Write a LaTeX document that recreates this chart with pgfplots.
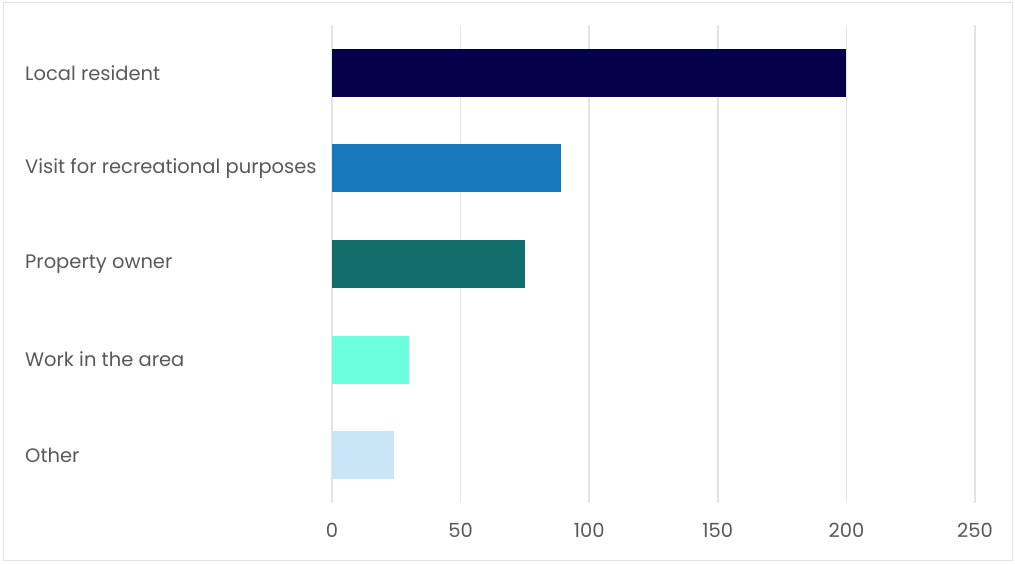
\documentclass[border=0pt]{standalone}
\usepackage{fontspec}
\setmainfont{Poppins}
\usepackage{pgfplots}
\pgfplotsset{compat=1.18}
\definecolor{cA}{HTML}{05004A}
\definecolor{cB}{HTML}{1878BE}
\definecolor{cC}{HTML}{116E6B}
\definecolor{cD}{HTML}{6CFFDD}
\definecolor{cE}{HTML}{C9E6F7}
\definecolor{txt}{HTML}{595959}
\definecolor{grd}{HTML}{E3E3E3}
\begin{document}
\begin{tikzpicture}[x=1pt,y=1pt]
\useasboundingbox (0,0) rectangle (1015,563);
\draw[color=grd, line width=1pt] (3,3) rectangle (1012,560);
\begin{axis}[
  at={(332pt,60pt)}, anchor=south west,
  scale only axis, width=643pt, height=478pt,
  xmin=0, xmax=250, ymin=-0.5, ymax=4.5,
  y dir=reverse,
  axis line style={draw=none},
  major tick length=0pt,
  xmajorgrids, grid style={color=grd, line width=1.5pt},
  xtick={0,50,100,150,200,250},
  ytick={0,1,2,3,4},
  yticklabels={Local resident, Visit for recreational purposes, Property owner, Work in the area, Other},
  ticklabel style={font=\fontsize{19.5}{23}\selectfont, text=txt},
  yticklabel style={anchor=west, inner sep=0pt, xshift=-307pt},
  xticklabel style={anchor=center, inner sep=0pt, yshift=-27pt},
  /pgf/number format/assume math mode=true,
  clip=false,
]
\addplot[xbar, bar shift=0pt, bar width=48pt, fill=cA, draw=none] coordinates {(200,0)};
\addplot[xbar, bar shift=0pt, bar width=48pt, fill=cB, draw=none] coordinates {(89,1)};
\addplot[xbar, bar shift=0pt, bar width=48pt, fill=cC, draw=none] coordinates {(75,2)};
\addplot[xbar, bar shift=0pt, bar width=48pt, fill=cD, draw=none] coordinates {(30,3)};
\addplot[xbar, bar shift=0pt, bar width=48pt, fill=cE, draw=none] coordinates {(24,4)};
\end{axis}
\end{tikzpicture}
\end{document}
